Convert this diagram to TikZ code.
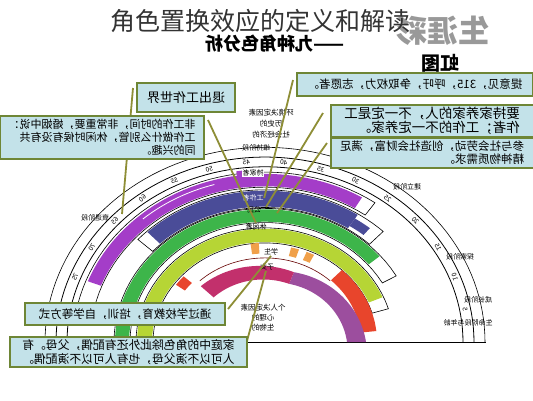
\documentclass[tikz,border=0pt]{standalone}
\usepackage{fontspec}
\setmainfont{Noto Sans CJK SC}
\definecolor{boxfill}{HTML}{C3E2E9}
\definecolor{boxline}{HTML}{6E8636}
\definecolor{connc}{HTML}{8E8E36}
\definecolor{hpurple}{HTML}{A43DC8}
\definecolor{wblue}{HTML}{4A4C98}
\definecolor{cgreen}{HTML}{3DB54A}
\definecolor{lgreen}{HTML}{B6D535}
\definecolor{sorange}{HTML}{F0A04A}
\definecolor{sred}{HTML}{E8452C}
\definecolor{cpurple}{HTML}{9C4E9E}
\definecolor{ccrimson}{HTML}{C2306C}
\newcommand\rbsec[4]{plot[domain=#1*2.1176:#2*2.1176,samples=40] ({265+(#4)*cos(\x)},{342-0.885*(#4)*sin(\x)}) -- plot[domain=#2*2.1176:#1*2.1176,samples=40] ({265+(#3)*cos(\x)},{342-0.885*(#3)*sin(\x)}) -- cycle}
\newcommand\rbarc[3]{plot[domain=#1*2.1176:#2*2.1176,samples=80] ({265+(#3)*cos(\x)},{342-0.885*(#3)*sin(\x)})}
% tapered sector: ages a1 a2, inner r at a1/a2, outer r at a1/a2
\newcommand\rbvar[6]{plot[domain=#1:#2,samples=40] ({265+(#5+(#6-#5)*(\x-#1)/(#2-#1))*cos(\x*2.1176)},{342-0.885*(#5+(#6-#5)*(\x-#1)/(#2-#1))*sin(\x*2.1176)}) -- plot[domain=#2:#1,samples=40] ({265+(#3+(#4-#3)*(\x-#1)/(#2-#1))*cos(\x*2.1176)},{342-0.885*(#3+(#4-#3)*(\x-#1)/(#2-#1))*sin(\x*2.1176)}) -- cycle}
\begin{document}
\begin{tikzpicture}[x=1pt,y=-1pt,
 boxs/.style={draw=boxline, line width=2pt, fill=boxfill, xscale=-1, inner sep=2pt, align=left, text=black},
 conn/.style={draw=connc, line width=1.8pt},
 outl/.style={draw=black, line width=0.6pt, fill=white},
 lab/.style={font=\fontsize{7}{8}\selectfont, xscale=-1, inner sep=0.5pt},
 stg/.style={font=\fontsize{7}{8}\selectfont, xscale=-1, inner sep=0.5pt},
 num/.style={font=\fontsize{6.5}{7}\selectfont, inner sep=0pt}]
\useasboundingbox (0,0) rectangle (533,400);
\fill[white] (0,0) rectangle (533,400);
% age ring
\draw[line width=0.8pt] \rbarc{0}{85}{198};
\draw[line width=0.8pt] \rbarc{0}{85}{209};
\draw[line width=0.6pt] \rbarc{0}{85}{220};
\draw[line width=0.8pt] (248,342) -- (486,342);
\foreach \a in {5,10,...,80} {
  \pgfmathsetmacro\tx{265+203.5*cos(\a*2.1176)}
  \pgfmathsetmacro\ty{342-0.885*203.5*sin(\a*2.1176)}
  \pgfmathsetmacro\rt{\a*2.1176-90}
  \node[num, rotate=\rt, xscale=-1] (n\a) at (\tx,\ty) {\a};
}
% homemaker
\draw[outl] \rbsec{26}{79}{175}{192};
\fill[hpurple] \rbsec{28}{75}{176}{190};
\fill[hpurple] \rbsec{43.5}{46.5}{189}{195};
\draw[white, line width=0.8pt] \rbarc{50}{62}{185};
% worker
\draw[outl] \rbsec{22}{65}{152}{172};
\fill[wblue] \rbsec{27}{63}{153}{171};
\fill[wblue] \rbsec{24}{27}{156}{166};
% citizen
\draw[outl] \rbsec{14}{85}{135}{151};
\fill[cgreen] \rbsec{19}{85}{136}{150};
% leisure
\draw[outl] \rbsec{8}{85}{112}{129};
\fill[lgreen] \rbsec{11}{85}{113}{128};
% student
\fill[sred] \rbsec{3}{22}{96}{112};
\fill[sorange] \rbsec{30}{32}{100}{110};
\fill[sorange] \rbsec{34}{36}{100}{110};
\fill[sorange] \rbsec{44}{46}{100}{112};
\fill[sred] \rbsec{65}{68}{99}{110};
\draw[draw=black!60!red, line width=0.6pt] \rbarc{22}{63}{95};
% child
\fill[cpurple] \rbvar{0}{33}{82}{70}{101}{84};
\fill[ccrimson] \rbvar{33}{64}{70}{72}{84}{90};
% band labels
\node[lab, fill=white] (hm) at (253,173) {持家者};
\node[lab, text=white] (wk) at (253,198) {工作者};
\node[lab] (cz) at (254,210) {公民};
\node[lab] (ls) at (256,227) {休闲者};
\node[lab] (st) at (271,252) {学生};
\node[lab] (ch) at (267,267) {子女};
% stage labels
\node[stg] (s1) at (407,187) {建立阶段};
\node[stg] (s2) at (460,257) {探索阶段};
\node[stg] (s3) at (478,300) {成长阶段};
\node[stg] (s4) at (468,323) {生命阶段与年龄};
\node[stg] (s5) at (95,218) {衰退阶段};
\node[stg] (s6) at (256,148) {维持阶段};
% determinants
\node[stg, align=center, font=\fontsize{7.5}{11}\selectfont] (env) at (271,124) {环境决定因素\\历史的\\社会经济的};
\node[stg, align=center, font=\fontsize{7.5}{10}\selectfont] (per) at (263,318) {个人决定因素\\心理的\\生物的};
% connectors
\coordinate (a0) at (133,88); \coordinate (a1) at (122,214);
\draw[conn] (a0) -- (a1);
\coordinate (b0) at (208,120);
\draw[conn] (b0) -- (ls.north);
\coordinate (c0) at (293,80);
\draw[conn] (c0) -- (wk.west);
\coordinate (d0) at (323,113);
\coordinate (d1) at (266,207);
\draw[conn] (d0) -- (d1);
\coordinate (e0) at (327,143);
\coordinate (e1) at (277,213);
\draw[conn] (e0) -- (e1);
\coordinate (f0) at (228,309);
\draw[conn] (f0) -- (st.south);
\coordinate (g0) at (247,341);
\draw[conn] (g0) -- (ch);
% boxes
\node[boxs, minimum width=98pt, minimum height=29pt, font=\fontsize{13}{15}\selectfont] (bA) at (186,97.5) {退出工作世界};
\node[boxs, minimum width=204pt, minimum height=43pt, font=\fontsize{11}{13}\selectfont] (bB) at (102,137.5) {非工作的时间，非常重要，婚姻中说：\\工作做什么别管，休闲时候有没有共\\同的兴趣。};
\node[boxs, minimum width=236pt, minimum height=23pt, font=\fontsize{11.5}{13}\selectfont] (bC) at (415,84.5) {提意见，315，呼吁，争取权力，志愿者。};
\node[boxs, minimum width=203pt, minimum height=30pt, font=\fontsize{13.5}{13.5}\selectfont] (bD) at (432,121) {要持家养家的人，不一定是工\\作者；工作的不一定养家。};
\node[boxs, minimum width=203pt, minimum height=30pt, font=\fontsize{11.5}{13}\selectfont] (bE) at (432,153) {参与社会劳动，创造社会财富，满足\\精神物质需求。};
\node[boxs, minimum width=200pt, minimum height=22pt, font=\fontsize{11.5}{13}\selectfont] (bF) at (125,314) {通过学校教育，培训，自学等方式};
\node[boxs, minimum width=237pt, minimum height=30pt, font=\fontsize{11.8}{14}\selectfont] (bG) at (128.5,352) {家庭中的角色除此外还有配偶，父母。有\\人可以不演父母，也有人可以不演配偶。};
% headings
\node[xscale=-1, text=black!40, font=\fontsize{31}{31}\selectfont\bfseries, inner sep=0pt] (h1) at (443,31) {生涯彩};
\node[xscale=-1, font=\fontsize{19}{19}\selectfont\bfseries, inner sep=0pt] (h2) at (440,63) {虹图};
\node[xscale=-1, font=\fontsize{18}{18}\selectfont\bfseries, inner sep=0pt] (h3) at (275,44) {——九种角色分析};
\node[text=black!80, font=\fontsize{25}{25}\selectfont, inner sep=0pt] (title) at (260,21) {角色置换效应的定义和解读};
\end{tikzpicture}
\end{document}
